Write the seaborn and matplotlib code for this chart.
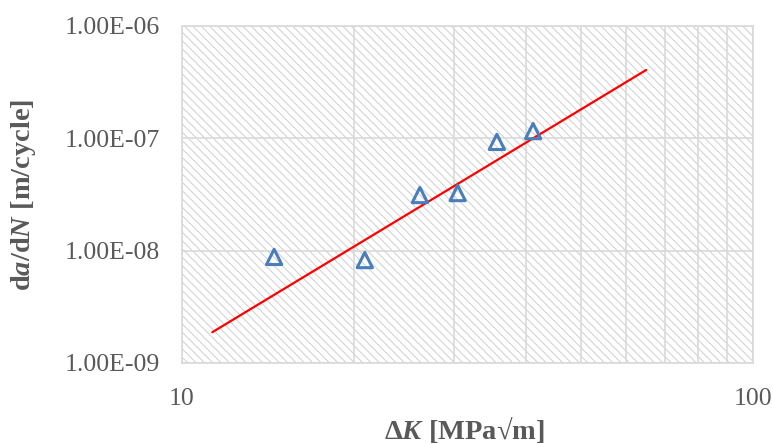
import numpy as np
import pandas as pd
import matplotlib
matplotlib.use('Agg')
import matplotlib.pyplot as plt
import matplotlib.ticker as ticker
from matplotlib.patches import Rectangle
import seaborn as sns

# data
delta_k = [14.5, 20.9, 26.1, 30.4, 35.6, 41.2]
dadn = [8.8e-9, 8.25e-9, 3.13e-8, 3.26e-8, 9.3e-8, 1.16e-7]

# fitted power-law line (end points)
fit_k = [11.3, 65.0]
fit_dadn = [1.88e-9, 4.06e-7]

x_ticks = [10, 100]
y_ticks = [1e-9, 1e-8, 1e-7, 1e-6]

sns.set_style('white')
plt.rcParams['font.family'] = ['Liberation Serif', 'DejaVu Serif']
plt.rcParams['mathtext.fontset'] = 'custom'
plt.rcParams['mathtext.rm'] = 'Liberation Serif:bold'
plt.rcParams['mathtext.it'] = 'Liberation Serif:bold:italic'
plt.rcParams['mathtext.bf'] = 'Liberation Serif:bold'
plt.rcParams['hatch.color'] = '#d4d4d4'
plt.rcParams['hatch.linewidth'] = 0.8

grid_col = '#d9d9d9'
text_col = '#595959'

fig = plt.figure(figsize=(7.73, 4.44), dpi=100)
ax = fig.add_axes([182/773, 81/444, 571/773, 337/444])

# hatched background
ax.add_patch(Rectangle((0, 0), 1, 1, transform=ax.transAxes, facecolor='white',
                       edgecolor='#d4d4d4', hatch='\\\\\\\\', lw=0, zorder=0))

pts = pd.DataFrame({'dK': delta_k, 'dadn': dadn})
fit = pd.DataFrame({'dK': fit_k, 'dadn': fit_dadn})

sns.lineplot(data=fit, x='dK', y='dadn', color='#ff0000', lw=1.6, ax=ax, zorder=3)
sns.scatterplot(data=pts, x='dK', y='dadn', marker='^', s=11**2,
                facecolor='none', edgecolor='#4a7ebb', linewidth=2.2, ax=ax, zorder=4)

ax.set_xscale('log')
ax.set_yscale('log')
ax.set_xlim(10, 100)
ax.set_ylim(1e-9, 1e-6)

ax.set_xticks(x_ticks)
ax.xaxis.set_major_formatter(ticker.FuncFormatter(lambda v, p: f'{v:g}'))
ax.xaxis.set_minor_locator(ticker.LogLocator(base=10, subs=np.arange(2, 10)))
ax.xaxis.set_minor_formatter(ticker.NullFormatter())
ax.set_yticks(y_ticks)
ax.yaxis.set_major_formatter(ticker.FuncFormatter(lambda v, p: f'{v:.2E}'))
ax.yaxis.set_minor_locator(ticker.NullLocator())

ax.set_axisbelow(True)
ax.grid(which='major', color=grid_col, lw=1.2)
ax.grid(which='minor', axis='x', color=grid_col, lw=1.2)

for s in ax.spines.values():
    s.set_color(grid_col)
    s.set_linewidth(1.2)

ax.tick_params(axis='x', which='both', length=0, pad=18, labelsize=18.5, labelcolor=text_col)
ax.tick_params(axis='y', which='major', length=5, width=1.2, color=grid_col,
               direction='out', pad=11, labelsize=18.5, labelcolor=text_col)
ax.tick_params(axis='y', which='minor', length=0)

ax.set_xlabel('Δ$\\mathit{K}$ [MPa√m]', fontsize=20.5, fontweight='bold', color=text_col)
ax.set_ylabel('d$\\mathit{a}$/d$\\mathit{N}$ [m/cycle]', fontsize=20.5, fontweight='bold', color=text_col)
ax.xaxis.set_label_coords(0.494, -0.150)
ax.yaxis.set_label_coords(-0.252, 0.5)

fig.savefig('out.png', dpi=100)
